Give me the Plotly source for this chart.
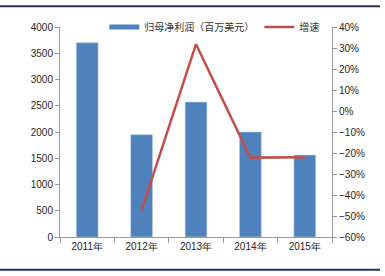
import plotly.graph_objects as go

years = ["2011年", "2012年", "2013年", "2014年", "2015年"]
profit = [3700, 1950, 2570, 2000, 1560]
growth = [None, -47.3, 31.8, -22.2, -22.0]

bar_color = "#4F81BD"
line_color = "#C0504D"

fig = go.Figure()
fig.add_trace(go.Bar(x=years, y=profit, marker=dict(color=bar_color, line=dict(color="#B9CDE5", width=0.6)),
                     showlegend=False, yaxis="y"))
fig.add_trace(go.Scatter(x=[None], y=[None], mode="lines", line=dict(color=bar_color, width=5),
                         name="归母净利润（百万美元）", yaxis="y"))
fig.add_trace(go.Scatter(x=years, y=growth, mode="lines", line=dict(color=line_color, width=2.5),
                         name="增速", yaxis="y2", connectgaps=False))

axis_font = dict(family="Liberation Sans, Arial, sans-serif", size=10, color="#262626")
fig.update_layout(
    width=385, height=276,
    margin=dict(l=60, r=53, t=25, b=39),
    paper_bgcolor="white", plot_bgcolor="white",
    bargap=0.6,
    xaxis=dict(type="category", showline=True, linecolor="#999999", linewidth=1,
               ticks="outside", tickson="boundaries", ticklen=5, tickcolor="#999999",
               tickfont=axis_font, showgrid=False),
    yaxis=dict(range=[0, 4000], dtick=500, showline=True, linecolor="#999999", linewidth=1,
               ticks="outside", ticklen=4, tickcolor="#999999", tickfont=axis_font,
               showgrid=False, zeroline=False),
    yaxis2=dict(range=[-60, 40], dtick=10, ticksuffix="%", overlaying="y", side="right",
                showline=True, linecolor="#999999", linewidth=1, ticks="outside", ticklen=4,
                tickcolor="#999999", tickfont=axis_font, showgrid=False, zeroline=False),
    legend=dict(orientation="h", x=0.163, xanchor="left", y=1.0, yanchor="middle",
                font=dict(family="Noto Sans CJK SC", size=10, color="#333333"),
                bgcolor="rgba(0,0,0,0)", itemwidth=30, tracegroupgap=0),
    shapes=[
        dict(type="line", xref="paper", yref="paper", x0=-60/272, x1=320/272, y0=1+21/212, y1=1+21/212,
             line=dict(color="#2E2F5E", width=2)),
        dict(type="line", xref="paper", yref="paper", x0=-60/272, x1=320/272, y0=-33/212, y1=-33/212,
             line=dict(color="#1F3864", width=2)),
    ],
)

fig.write_html("out.html")
